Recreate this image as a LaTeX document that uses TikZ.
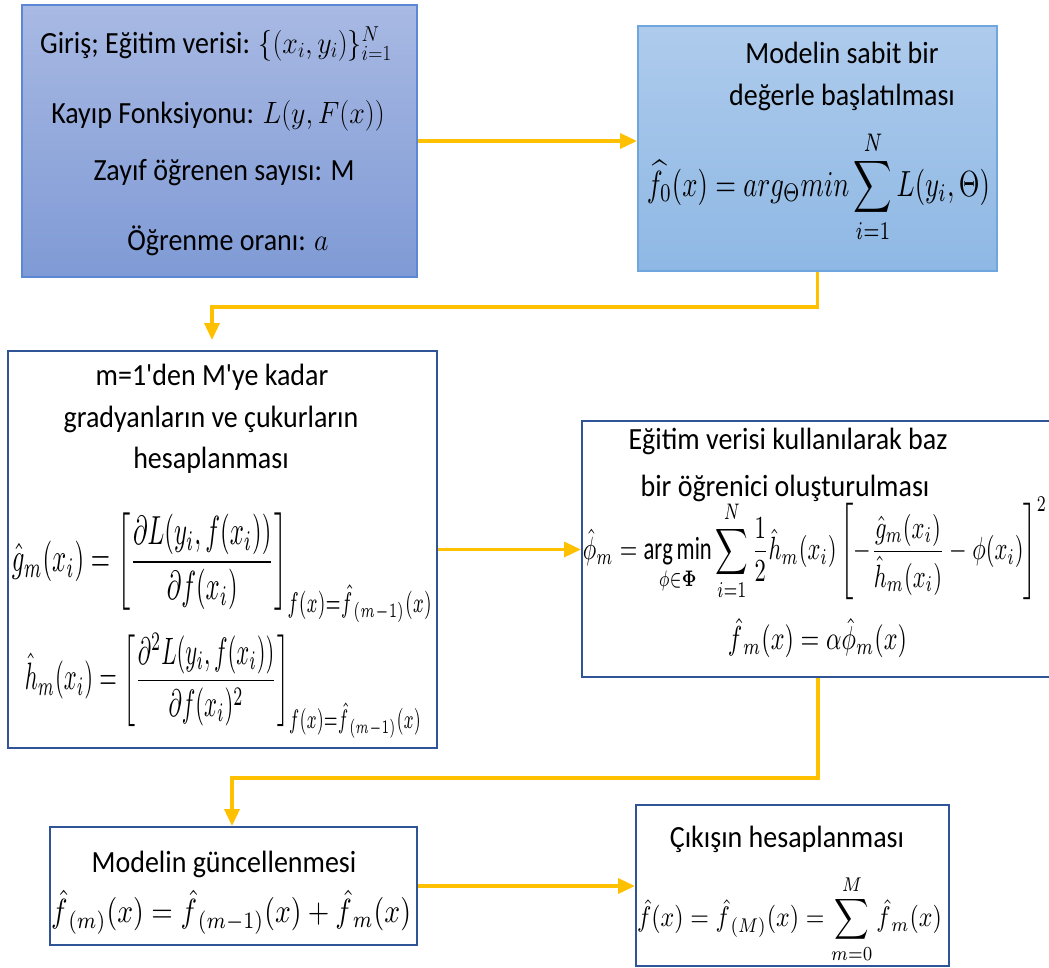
\RequirePackage{fix-cm}
\documentclass[tikz,border=0pt]{standalone}
\usepackage{amsmath,amssymb}
\usepackage{fontspec}
\setmainfont{Carlito}
\newfontfamily\plaincarl{Carlito}
\usepackage{graphicx}
\usetikzlibrary{arrows.meta}
\definecolor{orng}{HTML}{FFC000}
\definecolor{dblue}{HTML}{2F5597}
\definecolor{bAtop}{HTML}{A8B9E3}
\definecolor{bAbot}{HTML}{7F9AD5}
\definecolor{bAline}{HTML}{5B87D5}
\definecolor{bBtop}{HTML}{AECBEC}
\definecolor{bBbot}{HTML}{8EB8E4}
\definecolor{bBline}{HTML}{6FA6DE}
\newcommand\ystr[1]{\scalebox{1}[1.1]{#1}}
\tikzset{
  box/.style={draw=dblue, line width=2pt, fill=white, inner sep=0pt},
  con/.style={draw=orng, line width=3.5pt, -{Triangle[length=17pt,width=15pt]}},
  txt/.style={font=\fontsize{28}{34}\selectfont, inner sep=0pt, anchor=base},
  frm/.style={inner sep=0pt, anchor=center}
}
\begin{document}
\begin{tikzpicture}[x=1pt,y=-1pt]
\clip (0,0) rectangle (1049,967);
% boxes
\node[draw=bAline, line width=2pt, top color=bAtop, bottom color=bAbot, inner sep=0pt,
      minimum width=395pt, minimum height=272pt] (B1) at (219.5,141) {};
\node[draw=bBline, line width=2pt, top color=bBtop, bottom color=bBbot, inner sep=0pt,
      minimum width=359pt, minimum height=245pt] (B2) at (817.5,148.5) {};
\node[box, minimum width=429pt, minimum height=397pt] (B3) at (222.5,549.5) {};
\node[box, minimum width=472pt, minimum height=256pt] (B4) at (818,549) {};
\node[box, minimum width=367pt, minimum height=118pt] (B5) at (233.5,886) {};
\node[box, minimum width=313pt, minimum height=161pt] (B6) at (792.5,885.5) {};

% box 1 text
\node[txt] (t11) at (216,53) {\ystr{Giriş; Eğitim verisi: $\{(x_i,y_i)\}_{i=1}^{N}$}};
\node[txt] (t12) at (218,123) {\ystr{Kayıp Fonksiyonu: $L(y,F(x))$}};
\node[txt] (t13) at (224,180) {\ystr{Zayıf öğrenen sayısı: M}};
\node[txt] (t14) at (228,250) {\ystr{Öğrenme oranı: $a$}};

% box 2 text
\node[txt] (t21) at (842,63) {\ystr{Modelin sabit bir}};
\node[txt] (t22) at (842,105) {\ystr{değerle başlatılması}};
\node[frm] (f21) at (818.5,186.5) {\resizebox*{343pt}{113pt}{$\displaystyle \widehat{f_0}(x) = arg_{\Theta}min\sum_{i=1}^{N} L(y_i,\Theta)$}};

% box 3 text
\node[txt] (t31) at (212,385) {\ystr{\plaincarl m=1'den M'ye kadar}};
\node[txt] (t32) at (211,427) {\ystr{gradyanların ve çukurların}};
\node[txt] (t33) at (211,468) {\ystr{hesaplanması}};
\node[frm] (f31) at (222.5,568) {\resizebox*{421pt}{110pt}{$\displaystyle \hat{g}_m(x_i)=\left[\frac{\partial L(y_i,f(x_i))}{\partial f(x_i)}\right]_{f(x)=\hat{f}_{\,(m-1)}(x)}$}};
\node[frm] (f32) at (223.5,685.5) {\resizebox*{397pt}{105pt}{$\displaystyle \hat{h}_m(x_i)=\left[\frac{\partial^2 L(y_i,f(x_i))}{\partial f(x_i)^2}\right]_{f(x)=\hat{f}_{\,(m-1)}(x)}$}};

% box 4 text
\node[txt] (t41) at (788,449) {\ystr{Eğitim verisi kullanılarak baz}};
\node[txt] (t42) at (785,496) {\ystr{bir öğrenici oluşturulması}};
\node[frm] (f41) at (815,549) {\resizebox*{464pt}{104pt}{$\displaystyle \hat{\phi}_m=\operatorname*{arg\,min}_{\phi\in\boldsymbol{\Phi}}\sum_{i=1}^{N}\frac{1}{2}\hat{h}_m(x_i)\left[-\frac{\hat{g}_m(x_i)}{\hat{h}_m(x_i)}-\phi(x_i)\right]^2$}};
\node[frm] (f42) at (817.5,638) {\resizebox*{179pt}{40pt}{$\displaystyle \hat{f}_{\,m}(x)=\alpha\hat{\phi}_m(x)$}};

% box 5 text
\node[txt] (t51) at (224,872) {\ystr{Modelin güncellenmesi}};
\node[frm] (f51) at (231,912) {\resizebox*{360pt}{44pt}{$\displaystyle \hat{f}_{\,(m)}(x)=\hat{f}_{\,(m-1)}(x)+\hat{f}_{\,m}(x)$}};

% box 6 text
\node[txt] (t61) at (787,847) {\ystr{Çıkışın hesaplanması}};
\node[frm] (f61) at (789.5,919) {\resizebox*{305pt}{88pt}{$\displaystyle \hat{f}(x)=\hat{f}_{\,(M)}(x)=\sum_{m=0}^{M}\hat{f}_{\,m}(x)$}};

% connectors
\coordinate (k2) at (212,307);
\coordinate (t2) at (212,340);
\coordinate (k4) at (232,778);
\draw[con] (B1.east) -- (B1.east -| B2.west);
\draw[con] (B2.south) |- (k2) -- (t2);
\draw[con] (B3.east) -- (B3.east -| B4.west);
\draw[con] (B4.south) |- (k4) -- (k4 |- B5.north);
\draw[con] (B5.east) -- (B5.east -| B6.west);
\end{tikzpicture}
\end{document}
